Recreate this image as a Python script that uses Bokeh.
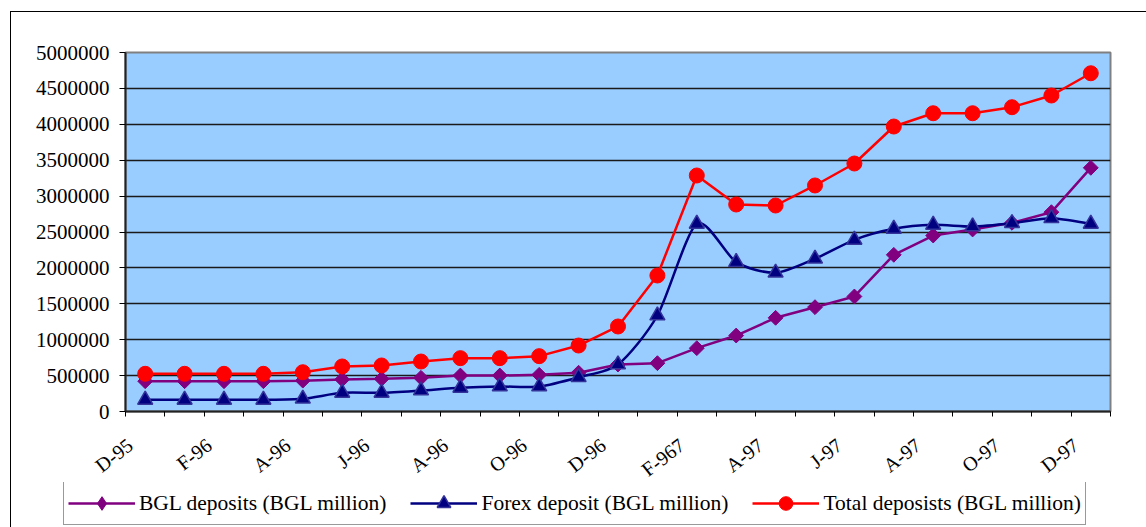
import numpy as np
from bokeh.plotting import figure
from bokeh.layouts import column, row
from bokeh.models import (FixedTicker, NumeralTickFormatter, Legend, LegendItem,
                          InlineStyleSheet)
from bokeh.embed import file_html
from bokeh.resources import INLINE

# Monthly deposits, Dec 1995 - Dec 1997 (BGL million)
tick_labels = ["D-95", "F-96", "A-96", "J-96", "A-96", "O-96", "D-96",
               "F-967", "A-97", "J-97", "A-97", "O-97", "D-97"]

bgl_deposits = [422000, 422000, 422000, 422000, 430000, 446000, 455000,
                469000, 501000, 501000, 511000, 540000, 655000, 673000,
                882000, 1058000, 1305000, 1453000, 1602000, 2182000,
                2451000, 2535000, 2628000, 2776000, 3394000]

forex_deposits = [163000, 163000, 163000, 163000, 177000, 260000, 260000,
                  292000, 330000, 348000, 348000, 478000, 655000, 1337000,
                  2614000, 2080000, 1932000, 2127000, 2391000, 2544000,
                  2600000, 2577000, 2623000, 2692000, 2614000]

total_deposits = [525000, 525000, 525000, 525000, 547000, 627000, 641000,
                  696000, 743000, 743000, 771000, 919000, 1184000, 1894000,
                  3287000, 2883000, 2869000, 3148000, 3454000, 3969000,
                  4154000, 4154000, 4238000, 4401000, 4711000]

series_labels = ["BGL deposits (BGL million)",
                 "Forex deposit (BGL million)",
                 "Total deposists (BGL million)"]

n = len(total_deposits)
x = list(range(n))

FONT = "Liberation Serif"
PURPLE, NAVY, RED = "#800080", "#000080", "#FF0000"


def frame_css(top):
    # thin outer frame of the chart area, drawn over the canvas
    return InlineStyleSheet(css=f"""
:host {{ position: relative; overflow: hidden; }}
:host::after {{
  content: ""; position: absolute; left: 10px; top: {top}px;
  width: 3000px; height: 3000px; border: 1px solid #000;
  pointer-events: none; z-index: 5;
}}
""")


p = figure(width=1146, height=493,
           x_range=(-0.5, n - 0.5), y_range=(0, 5000000),
           output_backend="svg", toolbar_location=None,
           min_border_left=125, min_border_right=36,
           min_border_top=52, min_border_bottom=82,
           background_fill_color="#99CCFF", border_fill_color="white",
           outline_line_color="#808080", outline_line_width=2)
p.stylesheets = [frame_css(11)]

# axes: tick marks on category boundaries, labels on every second month
label_pos = [round(2 * i - 0.38, 2) for i in range(len(tick_labels))]
xa = p.xaxis[0]
xa.ticker = FixedTicker(ticks=label_pos,
                        minor_ticks=[i - 0.5 for i in range(n + 1)])
xa.major_label_overrides = {pos: lab for pos, lab in zip(label_pos, tick_labels)}
xa.major_label_orientation = 0.66
xa.major_tick_out = 0
xa.major_tick_in = 0
xa.minor_tick_out = 5
xa.minor_tick_in = 0
xa.minor_tick_line_color = "black"
xa.axis_line_color = "#222222"
xa.axis_line_width = 2
xa.major_label_text_font = FONT
xa.major_label_text_font_size = "20px"
xa.major_label_text_color = "black"
xa.major_label_standoff = 26

ya = p.yaxis[0]
ya.ticker = FixedTicker(ticks=list(range(0, 5000001, 500000)))
ya.formatter = NumeralTickFormatter(format="0")
ya.major_tick_out = 6
ya.major_tick_in = 0
ya.minor_tick_out = 0
ya.minor_tick_in = 0
ya.major_tick_line_color = "black"
ya.axis_line_color = "#222222"
ya.axis_line_width = 2
ya.major_label_text_font = FONT
ya.major_label_text_font_size = "21px"
ya.major_label_text_color = "black"
ya.major_label_standoff = 10

p.xgrid.visible = False
p.ygrid.grid_line_color = "#1a1a1a"
p.ygrid.grid_line_width = 1.3

# BGL deposits
p.line(x, bgl_deposits, line_color=PURPLE, line_width=2.5)
p.scatter(x, bgl_deposits, marker="square", angle=np.pi / 4, size=10.5,
          fill_color=PURPLE, line_color=PURPLE)

# Forex deposits, smoothed curve
pts = np.column_stack([x, forex_deposits]).astype(float)
x0, y0, x1, y1, cx0, cy0, cx1, cy1 = ([] for _ in range(8))
for i in range(n - 1):
    p0 = pts[max(i - 1, 0)]
    p1 = pts[i]
    p2 = pts[i + 1]
    p3 = pts[min(i + 2, n - 1)]
    c1 = p1 + (p2 - p0) / 8.0
    c2 = p2 - (p3 - p1) / 8.0
    x0.append(p1[0]); y0.append(p1[1]); x1.append(p2[0]); y1.append(p2[1])
    cx0.append(c1[0]); cy0.append(c1[1]); cx1.append(c2[0]); cy1.append(c2[1])
p.bezier(x0=x0, y0=y0, x1=x1, y1=y1, cx0=cx0, cy0=cy0,
         cx1=cx1, cy1=cy1, line_color=NAVY, line_width=2.5)
p.scatter(x, forex_deposits, marker="triangle", size=15,
          fill_color=NAVY, line_color="#333399", line_width=1.5)

# Total deposits
p.line(x, total_deposits, line_color=RED, line_width=2.5)
p.scatter(x, total_deposits, marker="circle", size=15,
          fill_color=RED, line_color=RED)

# legend strip underneath the chart
leg = figure(width=1146, height=45, x_range=(0, 1), y_range=(0, 1),
             output_backend="svg", toolbar_location=None,
             x_axis_location=None, y_axis_location=None,
             min_border_left=0, min_border_right=0,
             min_border_top=0, min_border_bottom=0,
             background_fill_color="white", border_fill_color="white",
             outline_line_color=None, align="start")
leg.xgrid.visible = False
leg.ygrid.visible = False
leg.stylesheets = [frame_css(-20)]

# legend swatches (placed outside the visible range; only their keys show)
off = [5, 6]
k_bgl_l = leg.line(off, off, line_color=PURPLE, line_width=2.5)
k_bgl_m = leg.scatter(off, off, marker="diamond", size=15,
                      fill_color=PURPLE, line_color=PURPLE)
k_fx_l = leg.line(off, off, line_color=NAVY, line_width=2.5)
k_fx_m = leg.scatter(off, off, marker="triangle", size=15,
                     fill_color=NAVY, line_color="#333399", line_width=1.5)
k_tot_l = leg.line(off, off, line_color=RED, line_width=2.5)
k_tot_m = leg.scatter(off, off, marker="circle", size=15,
                      fill_color=RED, line_color=RED)

legend = Legend(items=[
    LegendItem(label=series_labels[0], renderers=[k_bgl_l, k_bgl_m]),
    LegendItem(label=series_labels[1], renderers=[k_fx_l, k_fx_m]),
    LegendItem(label=series_labels[2], renderers=[k_tot_l, k_tot_m]),
], orientation="horizontal", location=(63, 2))
legend.label_text_font = FONT
legend.label_text_font_size = "21.5px"
legend.label_text_color = "black"
legend.glyph_width = 67
legend.glyph_height = 34
legend.label_standoff = 4
legend.spacing = 24
legend.padding = 4
legend.margin = 0
legend.border_line_color = "#333333"
legend.border_line_width = 1.5
legend.background_fill_color = "white"
legend.background_fill_alpha = 1.0
leg.add_layout(legend, "center")

strip = row(leg, styles={"margin-top": "-11px"})
page = column(p, strip, spacing=0)
open("out.html", "w").write(file_html(page, INLINE))
